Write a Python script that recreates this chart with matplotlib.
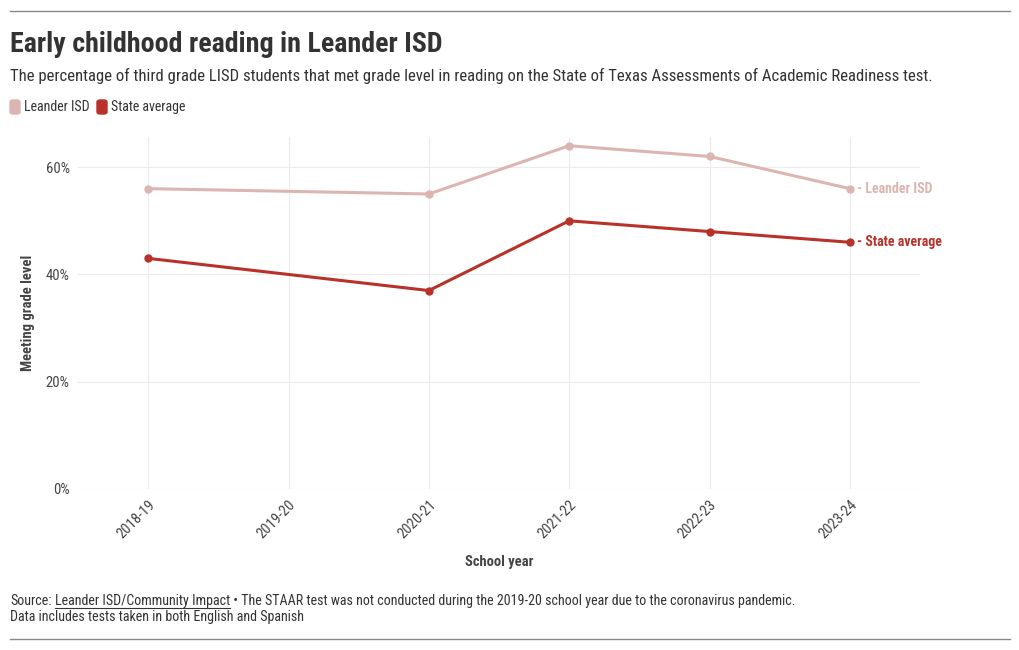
import matplotlib.pyplot as plt
from matplotlib.lines import Line2D
from matplotlib.patches import FancyBboxPatch

years = ['2018-19', '2019-20', '2020-21', '2021-22', '2022-23', '2023-24']
leander_years = ['2018-19', '2020-21', '2021-22', '2022-23', '2023-24']
leander = [56, 55, 64, 62, 56]
state = [43, 37, 50, 48, 46]

C_LEANDER = '#dcb5b2'
C_STATE = '#b8322a'
TXT = '#333333'

plt.rcParams['font.family'] = ['Roboto Condensed', 'Roboto', 'DejaVu Sans']

fig = plt.figure(figsize=(10.2, 6.5), dpi=100)
ax = fig.add_axes([0.0765, 0.2477, 0.8255, 0.5413])

xi = [years.index(y) for y in leander_years]
ax.plot(xi, leander, color=C_LEANDER, lw=2.2, marker='o', ms=5, zorder=3)
ax.plot(xi, state, color=C_STATE, lw=2.2, marker='o', ms=5, zorder=3)

ax.set_xlim(-0.5, 5.5)
ax.set_ylim(0, 65.6)
ax.set_xticks(range(len(years)))
ax.set_xticklabels(years, rotation=45, ha='right', rotation_mode='anchor')
ax.set_yticks([0, 20, 40, 60])
ax.set_yticklabels(['0%', '20%', '40%', '60%'])
ax.tick_params(length=0, labelsize=10.5, colors='#444444', pad=6)
ax.grid(True, color='#ececec', lw=0.8)
for s in ax.spines.values():
    s.set_visible(False)
ax.set_xlabel('School year', fontsize=10.5, fontweight='bold', color='#444444', labelpad=10)
ax.set_ylabel('Meeting grade level', fontsize=10.5, fontweight='bold', color='#444444', labelpad=8)

ax.annotate('- Leander ISD', (xi[-1], leander[-1]), xytext=(5, 0), textcoords='offset points',
            va='center', fontsize=10, fontweight='bold', color=C_LEANDER, annotation_clip=False)
ax.annotate('- State average', (xi[-1], state[-1]), xytext=(5, 0), textcoords='offset points',
            va='center', fontsize=10, fontweight='bold', color=C_STATE, annotation_clip=False)

fig.add_artist(Line2D([10/1020, 1010/1020], [1 - 11/650, 1 - 11/650], color='#888888', lw=1))
fig.add_artist(Line2D([10/1020, 1010/1020], [1 - 639/650, 1 - 639/650], color='#888888', lw=1))

fig.text(10/1020, 1 - 44/650, 'Early childhood reading in Leander ISD', fontsize=20.2, fontweight='bold',
         color=TXT, va='center')
fig.text(10/1020, 1 - 76/650, 'The percentage of third grade LISD students that met grade level in reading '
         'on the State of Texas Assessments of Academic Readiness test.', fontsize=12.1, color=TXT, va='center')

for x0, col in [(10, C_LEANDER), (97, C_STATE)]:
    fig.add_artist(FancyBboxPatch((x0/1020, 1 - 114/650), 10/1020, 14/650,
                                  boxstyle='round,pad=0,rounding_size=0.003', color=col,
                                  transform=fig.transFigure))
fig.text(24/1020, 1 - 107/650, 'Leander ISD', fontsize=10, color=TXT, va='center')
fig.text(111/1020, 1 - 107/650, 'State average', fontsize=10, color=TXT, va='center')

# source line, pieces placed one after another
r = fig.canvas.get_renderer()
x = 10
pieces = ['Source:', 'Leander ISD/Community Impact',
          ' \u2022 The STAAR test was not conducted during the 2019-20 school year due to the coronavirus pandemic.']
for i, p in enumerate(pieces):
    t = fig.text(x/1020, 1 - 601/650, p, fontsize=10.1, color=TXT, va='center')
    w = t.get_window_extent(r).width
    if i == 1:
        fig.add_artist(Line2D([x/1020, (x + w)/1020], [1 - 608/650, 1 - 608/650], color=TXT, lw=0.8))
    x += w + (3 if i == 0 else 0)
fig.text(10/1020, 1 - 617/650, 'Data includes tests taken in both English and Spanish', fontsize=10.1,
         color=TXT, va='center')

fig.savefig('out.png', dpi=100)
